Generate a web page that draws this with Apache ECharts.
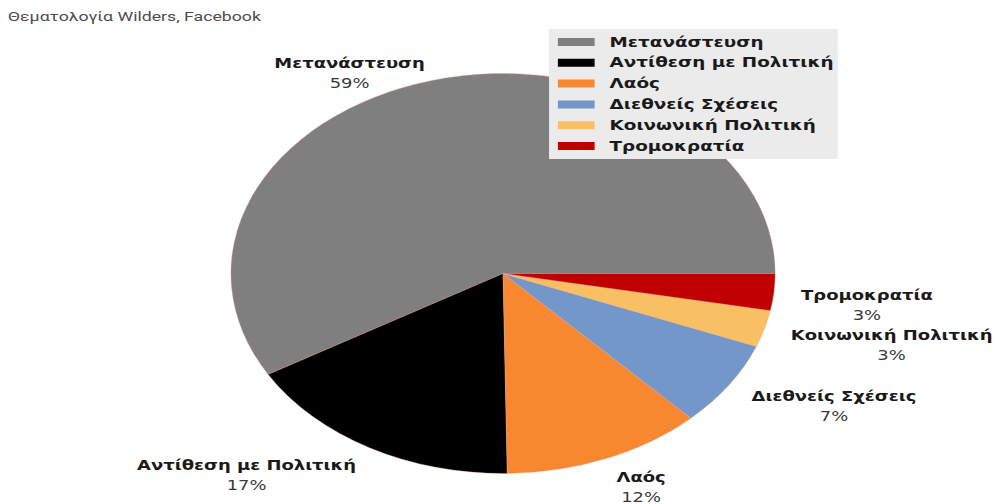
<!DOCTYPE html>
<html>
<head>
<meta charset="utf-8">
<script src="https://cdn.jsdelivr.net/npm/echarts@6/dist/echarts.min.js"></script>
<style>
  html, body { margin: 0; padding: 0; background: #ffffff; overflow: hidden; }
  /* the chart is laid out narrow and widened, which gives the oval pie */
  #chart { width: 732px; height: 504px; transform: scaleX(1.3607); transform-origin: 0 0; }
</style>
</head>
<body>
<div id="chart"></div>
<script>
// Topics of Wilders' Facebook posts (percent)
const categories = ['Μετανάστευση', 'Αντίθεση με Πολιτική', 'Λαός', 'Διεθνείς Σχέσεις', 'Κοινωνική Πολιτική', 'Τρομοκρατία'];
const shares = [59, 17, 12, 7, 3, 3];
const chartTitle = 'Θεματολογία Wilders, Facebook';

const palette = ['#7f7f7f', '#000000', '#f7882f', '#7397c8', '#f9c063', '#c00000'];

const CX = 369.7, CY = 273.5, R = 200;
const GAP_X = 20, GAP_Y = 12, LABEL_DROP = 11;
const total = shares.reduce((a, b) => a + b, 0);

// direction of the middle of slice i (start at 3 o'clock, counter-clockwise)
function midDirection(i) {
  let before = 0;
  for (let k = 0; k < i; k++) before += shares[k];
  const a = (before + shares[i] / 2) / total * Math.PI * 2;
  return [Math.cos(a), -Math.sin(a)];
}

const chart = echarts.init(document.getElementById('chart'), null, { renderer: 'svg' });

chart.setOption({
  backgroundColor: '#ffffff',
  color: palette,
  animation: false,
  title: {
    text: chartTitle,
    left: 5.9,
    top: 9,
    padding: 0,
    textStyle: { fontFamily: 'Roboto', fontWeight: 'normal', fontSize: 13, color: '#4d4d4d', lineHeight: 16 }
  },
  legend: {
    orient: 'vertical',
    left: 403.5,
    top: 29,
    padding: [6, 3, 6, 6.5],
    itemWidth: 27,
    itemHeight: 8,
    itemGap: 6.8,
    icon: 'rect',
    backgroundColor: '#ebebeb',
    itemStyle: { borderWidth: 0 },
    textStyle: {
      fontFamily: 'DejaVu Sans', fontWeight: 'bold', fontSize: 13.5, color: '#1a1a1a',
      lineHeight: 14, padding: [0, 0, 0, 6]
    },
    data: categories
  },
  series: [{
    type: 'pie',
    center: [CX, CY],
    radius: R,
    startAngle: 0,
    clockwise: false,
    avoidLabelOverlap: false,
    itemStyle: { borderColor: 'rgba(232,160,150,0.6)', borderWidth: 0.5 },
    label: {
      show: true,
      position: 'outside',
      formatter: '{n|{b}}\n{p|{c}%}',
      rich: {
        n: { fontFamily: 'DejaVu Sans', fontWeight: 'bold', fontSize: 13.2, color: '#1a1a1a', lineHeight: 20, align: 'center' },
        p: { fontFamily: 'DejaVu Sans', fontWeight: 'normal', fontSize: 13.2, color: '#3a3a3a', lineHeight: 20, align: 'center' }
      }
    },
    labelLine: { show: true, lineStyle: { opacity: 0 } },
    // each label sits just outside its slice, on the side the slice faces
    labelLayout: function (p) {
      let d;
      const pts = p.labelLinePoints;
      if (pts && pts.length) {
        d = [(pts[0][0] - CX) / R, (pts[0][1] - CY) / R];
      } else {
        d = midDirection(p.dataIndex);
      }
      const ax = CX + (R + GAP_X) * d[0];
      const ay = CY + (R + GAP_Y) * d[1];
      const w = p.labelRect.width, h = p.labelRect.height;
      return {
        x: ax + (d[0] >= 0 ? 1 : -1) * w / 2,
        y: ay + h * d[1] * 0.21 + LABEL_DROP,
        align: 'center',
        verticalAlign: 'middle'
      };
    },
    data: categories.map((name, i) => ({ name: name, value: shares[i] }))
  }]
});
</script>
</body>
</html>
